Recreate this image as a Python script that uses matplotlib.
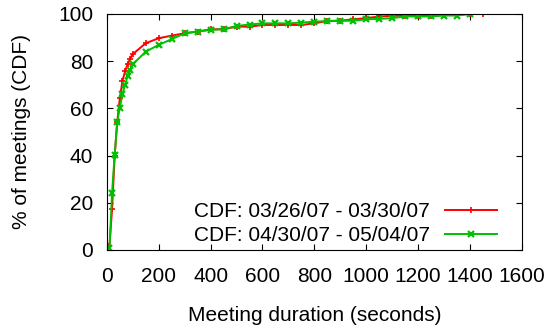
import matplotlib
matplotlib.use("Agg")
import matplotlib.pyplot as plt

# Duração das reuniões (segundos) e CDF (%)
x_red = [0, 10, 20, 30, 40, 50, 60, 70, 80, 90, 100, 150, 200, 250, 300, 350, 400, 450,
         500, 550, 600, 650, 700, 750, 800, 850, 900, 950, 1000, 1050, 1100, 1150, 1200,
         1250, 1300, 1350, 1400, 1450]
y_red = [0, 1.8, 17.3, 40, 54.4, 64.3, 71.6, 75.6, 78.7, 81, 83, 87.6, 89.7, 90.8, 91.8,
         92.5, 93.5, 93.5, 94.6, 94.6, 95.3, 95.3, 95.3, 95.3, 96, 97, 97.1, 97.7, 98.2,
         98.9, 99.2, 99.2, 99.2, 99.2, 99.6, 99.6, 100, 100]

x_green = [0, 10, 20, 30, 40, 50, 60, 70, 80, 90, 100, 150, 200, 250, 300, 350, 400, 450,
           500, 550, 600, 650, 700, 750, 800, 850, 900, 950, 1000, 1050, 1100, 1150, 1200,
           1250, 1300, 1350, 1400]
y_green = [0, 0.7, 24.3, 40.3, 54.4, 60.3, 66, 70, 73.7, 76.3, 78.7, 84, 86.9, 89.3, 91.8,
           92.5, 93.2, 93.5, 94.9, 95.5, 96, 96, 96, 96.3, 96.7, 97, 97.1, 97.1, 97.7,
           97.9, 98.2, 98.9, 98.9, 98.9, 99.3, 99.3, 100]

plt.rcParams["font.family"] = ["Liberation Sans", "DejaVu Sans"]
plt.rcParams["font.size"] = 15

fig = plt.figure(figsize=(5.51, 3.31), dpi=100)
ax = fig.add_axes([0.194, 0.245, 0.753, 0.713])

ax.plot(x_red, y_red, color="#ff0000", lw=1.4, marker="+", ms=4, mew=1.2,
        label="CDF: 03/26/07 - 03/30/07")
ax.plot(x_green, y_green, color="#00c000", lw=1.4, marker="x", ms=4, mew=1.6,
        label="CDF: 04/30/07 - 05/04/07")

ax.set_xlim(0, 1600)
ax.set_ylim(0, 100)
ax.set_xticks(range(0, 1601, 200))
ax.set_yticks(range(0, 101, 20))
ax.tick_params(direction="in", top=True, right=True, length=4, width=0.8)
ax.tick_params(axis="x", pad=12)
ax.tick_params(axis="y", pad=10)
ax.set_xlabel("Meeting duration (seconds)", va="center")
ax.set_ylabel("% of meetings (CDF)", va="center")
ax.xaxis.set_label_coords(0.5, -0.28)
ax.yaxis.set_label_coords(-0.207, 0.5)

ax.legend(loc="lower right", frameon=False, markerfirst=False, handlelength=2.5,
          handletextpad=0.7, borderaxespad=0.0, labelspacing=0.25,
          bbox_to_anchor=(0.96, -0.015))

plt.savefig("out.png", dpi=100)
